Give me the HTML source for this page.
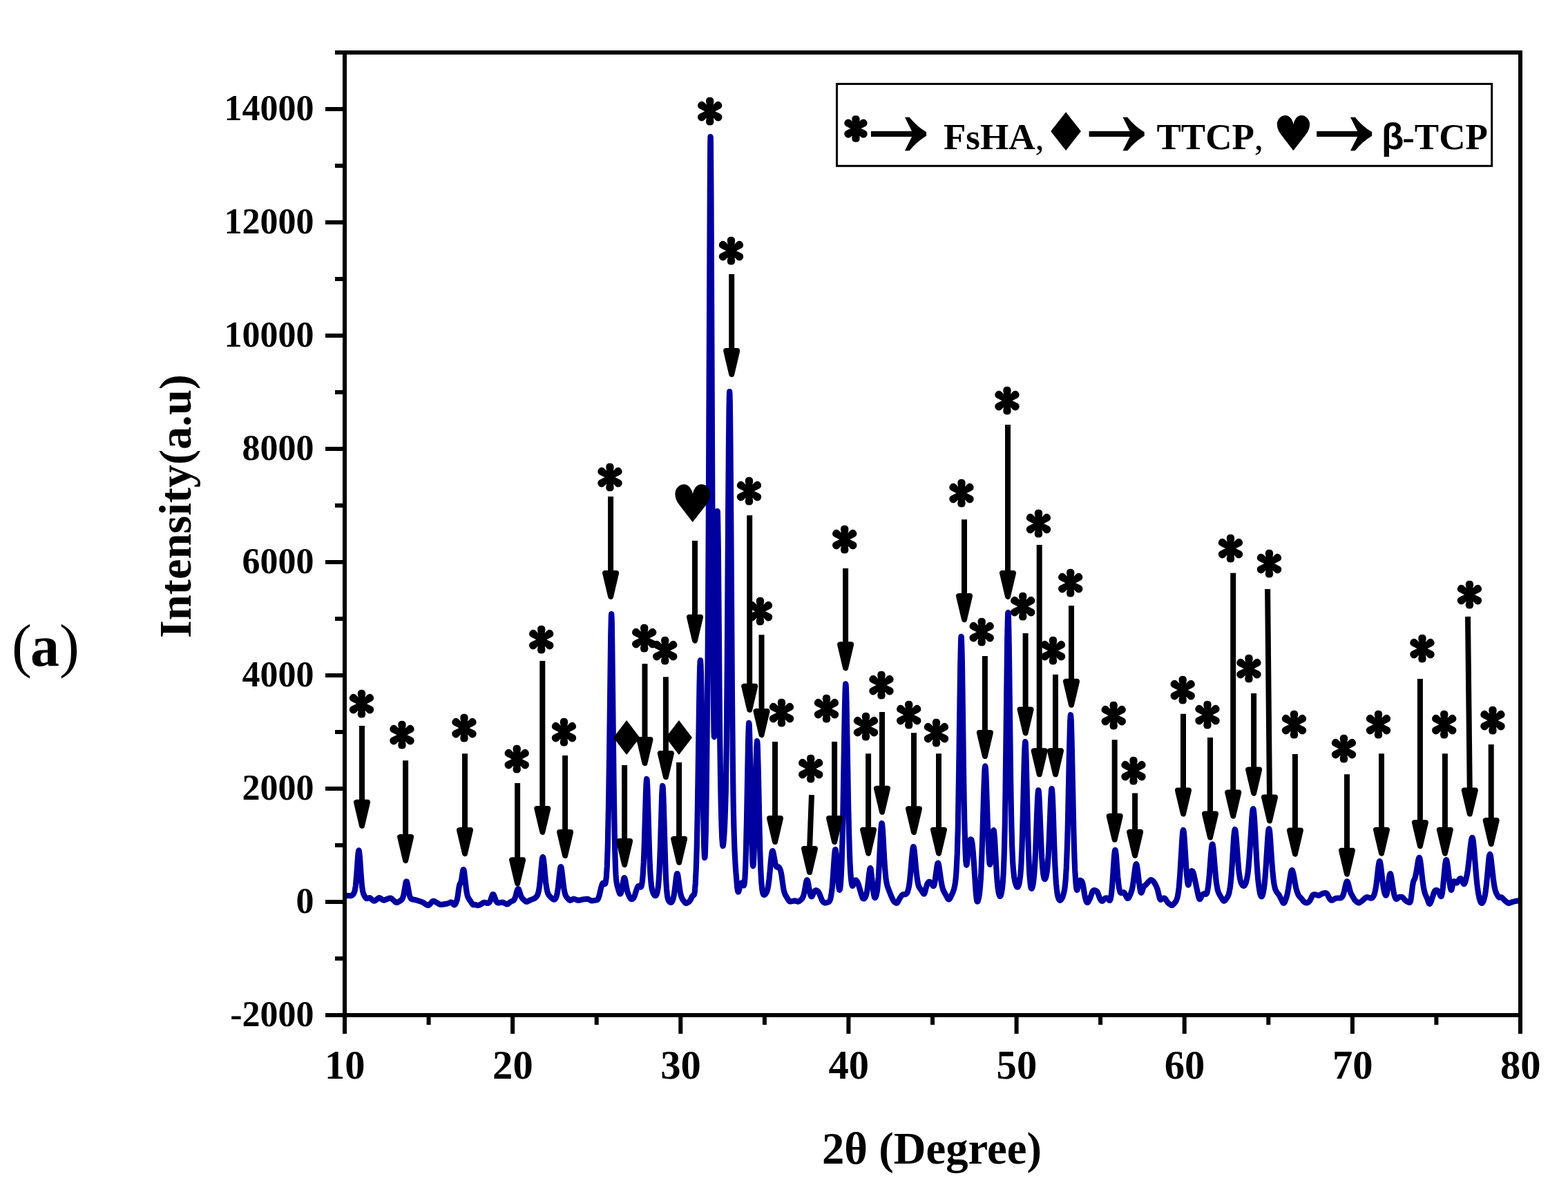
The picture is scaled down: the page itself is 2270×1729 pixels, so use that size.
<!DOCTYPE html>
<html lang="en">
<head>
<meta charset="utf-8">
<title>XRD pattern (a)</title>
<style>
html,body{margin:0;padding:0;background:#fff;}
body{width:2270px;height:1729px;overflow:hidden;}
svg{display:block;}
.b{font-family:"Liberation Serif","DejaVu Serif",serif;font-weight:bold;fill:#000;}
.r{font-family:"Liberation Serif","DejaVu Serif",serif;font-weight:normal;fill:#000;}
.s{font-family:"DejaVu Sans","Liberation Sans",sans-serif;fill:#000;}
.g{font-family:"Liberation Sans","DejaVu Sans",sans-serif;font-weight:bold;fill:#000;}
</style>
</head>
<body>
<svg width="2270" height="1729" viewBox="0 0 2270 1729">
<rect x="0" y="0" width="2270" height="1729" fill="#fff"/>
<g id="curve">
<path d="M497.5,1296.9 506.5,1297.2 507.5,1297.2 508.5,1297 509.2,1296.7 510,1296.2 510.8,1295.7 511.2,1295.2 511.8,1294.5 512.2,1293.7 513,1291.9 513.8,1289.1 514.2,1286.5 514.8,1283.1 515.2,1278.8 516.2,1267.3 518.2,1239.1 518.8,1234.3 519,1232.7 519.2,1231.8 519.5,1231.5 519.8,1231.9 520,1233.1 520.2,1234.8 520.8,1239.9 522.8,1268.9 523.8,1280.5 524.2,1284.8 524.8,1288.2 525.2,1290.8 525.8,1292.9 526.5,1295.1 527.5,1297.1 529,1299.6 529.8,1300.5 530.2,1301 530.8,1301.2 531.5,1301.2 534,1300.2 534.8,1300.1 535.2,1300.2 535.8,1300.4 536.5,1300.9 540.2,1304.1 541,1304.5 541.5,1304.6 542.2,1304.6 543,1304.2 544,1303.5 547.5,1300.7 548.2,1300.3 549,1300.1 549.8,1300.2 550.5,1300.6 553.2,1302.6 554.2,1303.2 555,1303.5 555.8,1303.6 556.5,1303.5 557.2,1303.2 563.8,1300.7 564.8,1300.5 565.2,1300.5 565.8,1300.6 566.5,1300.9 567.5,1301.7 572.5,1306.2 573.2,1306.7 574,1306.9 574.8,1306.9 575.5,1306.6 578.8,1304.8 580.8,1303.5 581.8,1302.6 582.5,1301.5 583.2,1299.7 584,1297.2 584.8,1293.7 586.8,1281.6 587.2,1279.1 587.8,1277.2 588,1276.6 588.2,1276.3 588.5,1276.3 588.8,1276.5 589,1277 589.2,1277.8 589.8,1279.9 591.8,1291.3 592.5,1295 593,1296.9 593.5,1298.5 594.2,1300.2 595,1301.3 595.5,1301.7 596,1302.1 597.2,1302.4 600.8,1303 602.5,1303.4 610.8,1306.1 612,1306.7 613,1307.2 618.2,1310.6 619,1310.9 619.5,1311 620.2,1311 620.8,1310.7 621.2,1310.3 622.2,1309.4 625.5,1305.7 626.5,1305 627.2,1304.8 628,1304.8 628.8,1305.1 635.5,1309.1 636.5,1309.6 637.5,1309.9 638.5,1310 639.5,1309.9 647,1308.6 648.8,1308.1 652,1306.6 653,1306.5 653.8,1306.7 654.5,1307.2 656.5,1309.5 657,1310 657.5,1310.3 658,1310.3 658.2,1310.2 658.8,1309.8 659.2,1309.1 659.8,1308.2 660.5,1306.5 661,1305.1 661.8,1302.5 662.2,1300.2 662.8,1297.2 664.2,1286.5 665,1282.3 665.5,1280.6 666,1279.6 666.8,1278.6 667,1278.1 667.5,1276.6 668.2,1272.9 669.5,1264.5 670,1261.6 670.5,1259.7 670.8,1259.2 671,1259.1 671.2,1259.3 671.5,1260 671.8,1261 672.2,1264 674.8,1286.1 675.5,1291.3 676,1294 676.5,1296.1 677,1297.8 677.5,1299.2 678.5,1301.1 681.2,1305.1 683.8,1309 684.5,1309.9 685,1310.3 685.8,1310.4 687.2,1310 688,1309.9 688.8,1310.1 690.5,1311 691,1311.1 691.8,1311.1 693.5,1310.6 696,1309.6 697.2,1308.9 699.5,1307.3 700.5,1306.9 701.2,1306.8 702,1306.9 704.8,1307.7 705.8,1307.9 706.5,1307.9 707.2,1307.6 708,1307.1 708.5,1306.6 709.5,1305 710.5,1302.6 712.5,1296.7 713.2,1295.3 713.5,1295.1 713.8,1295 714,1295 714.2,1295.1 714.5,1295.4 715,1296.3 715.5,1297.5 717.2,1302.5 718.2,1304.8 719,1306 719.5,1306.6 720,1307 720.8,1307.4 721.8,1307.5 722.8,1307.3 726,1306.7 726.8,1306.6 727.5,1306.6 728.2,1306.8 729,1307.1 733,1309.2 734,1309.4 734.8,1309.3 735.2,1309 736,1308.5 738.2,1306.6 739.2,1305.8 740.2,1305.3 742.2,1304.5 743,1304.1 743.8,1303.5 744.2,1302.9 744.8,1302.1 745.2,1301 746,1299.1 746.8,1296.6 748.2,1291.1 749,1288.7 749.5,1287.7 749.8,1287.4 750,1287.2 750.2,1287.2 750.5,1287.3 750.8,1287.5 751.2,1288.4 752,1290.5 754,1296.8 754.8,1298.6 755.8,1300.4 756.5,1301.4 757.2,1302.1 760.8,1305.1 761.5,1305.6 762,1305.7 762.5,1305.8 763,1305.7 764.2,1305.2 768.5,1303 772.8,1301.4 774.2,1300.6 775.8,1299.4 777,1298 777.8,1296.8 778.5,1295.2 779.2,1292.7 779.8,1290.6 780.5,1286.4 781,1282.8 782,1273.8 783.8,1254.4 784.5,1247 785,1243.4 785.2,1242.2 785.5,1241.4 785.8,1241 786,1241.1 786.2,1241.6 786.5,1242.6 787,1245.6 787.8,1252.4 789.2,1268.7 790.2,1278.2 791.2,1285.4 792.2,1290.4 792.8,1292.2 793.2,1293.6 794,1295.2 794.8,1296.4 795.5,1297.3 796.5,1298.4 799.2,1300.9 800.5,1302 801.5,1302.6 802.2,1302.6 803,1302.4 803.8,1301.7 804.5,1300.6 805,1299.5 805.8,1297.4 806.2,1295.5 806.8,1293.1 807.2,1290.2 808,1284.8 810,1265.9 810.8,1259.6 811.2,1256.7 811.5,1255.8 811.8,1255.2 812,1255.1 812.2,1255.3 812.5,1256 812.8,1257 813.2,1260 815.8,1281.9 816.5,1287.2 817.5,1292.3 818,1294.2 818.5,1295.7 819.5,1297.8 820.2,1299 821,1299.9 822.8,1301.9 823.8,1303 824.8,1303.6 825.2,1303.8 825.8,1303.8 826.8,1303.4 829.2,1302 830,1301.8 830.8,1301.7 832,1302 836.2,1303.6 837.2,1303.7 838,1303.7 839.2,1303.6 845,1302.3 848.5,1301.9 850,1301.8 851,1301.9 851.8,1302.2 855.2,1304 856,1304.2 857,1304.3 860,1304 862.8,1303.5 864.2,1303.1 864.8,1302.8 865.2,1302.4 865.8,1301.7 866.2,1300.8 867,1298.6 867.8,1295.8 870.2,1285.4 871.2,1282 872,1280 872.5,1279.1 872.8,1278.8 873,1278.6 873.2,1278.5 873.8,1278.7 875,1280 875.2,1280.2 875.5,1280.2 875.8,1280.1 876,1279.9 876.5,1278.7 877,1276.4 877.2,1274.8 877.8,1270.5 878.2,1264.1 878.8,1254.9 879.2,1242.2 879.8,1225.5 880.2,1204.8 881,1167.1 882.2,1087.1 884.2,922.4 884.8,896.8 885,890.5 885.2,889.1 885.5,892.7 885.8,901.1 886.2,930.5 888.5,1125.8 889.5,1193.6 890.2,1231.2 891,1256 891.5,1266.3 892,1272.9 892.5,1277.1 893,1280 894,1284.2 895.5,1289.5 896.5,1292.6 897.2,1294.1 897.5,1294.4 897.8,1294.5 898,1294.5 898.2,1294.4 898.8,1293.6 899.5,1291.4 900.2,1288 902,1277.5 902.8,1273.6 903.2,1271.9 903.5,1271.4 903.8,1271.1 904,1271.1 904.2,1271.4 904.5,1272 905,1273.7 905.5,1276.1 907.5,1287.4 908.2,1290.6 909,1293.2 910.2,1296.4 911.8,1299.5 912.8,1301.1 913.2,1301.6 913.8,1301.9 914.2,1302 914.8,1302 915.8,1301.7 916.2,1301.4 916.8,1300.9 917.5,1299.9 918,1298.9 918.8,1296.9 921,1289.9 922,1287.1 923,1284.7 923.8,1283.4 924.2,1283 924.5,1282.8 925,1282.9 925.5,1283.2 926.8,1284.5 927.2,1284.7 927.5,1284.7 927.8,1284.6 928,1284.3 928.2,1283.9 928.8,1282.4 929.2,1280.1 929.8,1276.8 930.5,1269.5 931.2,1258.6 931.8,1249 932.8,1223 935,1147.5 935.5,1135.7 935.8,1131.6 936,1129 936.2,1128 936.5,1128.6 936.8,1130.7 937,1134.4 937.5,1145.6 940,1230.4 940.5,1244.1 941.2,1260.4 942,1272.1 942.5,1277.8 943,1282.2 943.5,1285.6 944,1288.1 944.8,1291 945.5,1293 946,1294.1 946.8,1295.4 947.5,1296.3 948.2,1297 948.8,1297.1 949.2,1297 949.8,1296.6 950.2,1295.8 950.8,1294.7 951.2,1293.1 952,1289.8 952.8,1284.9 953.5,1277.5 954,1270.8 954.5,1262.2 955.2,1245.4 956,1223.8 957.8,1164.2 958.2,1150.5 958.8,1141.3 959,1138.9 959.2,1138 959.5,1138.7 959.8,1141 960,1144.9 960.5,1156.6 961,1172.5 962.8,1236 963.5,1258.1 964,1269.9 964.5,1279.4 965.2,1289.9 966,1296.8 966.5,1299.8 967,1301.9 967.8,1303.8 968.5,1305 969.8,1306.3 970.2,1306.6 970.8,1306.9 971.2,1306.9 971.8,1306.8 972.5,1306.2 973.2,1305 974,1303.3 974.5,1301.8 975,1299.8 976,1294.4 977,1287.1 979,1270.2 979.5,1267.2 979.8,1266.1 980,1265.4 980.2,1265 980.5,1265 980.8,1265.3 981,1265.9 981.5,1268.1 982.2,1273.2 984.2,1288.6 985,1293 985.8,1296.4 986.5,1298.9 987.5,1301.2 988.8,1303.2 990.8,1305.9 991.5,1306.8 992.2,1307.5 992.8,1307.8 993.2,1307.9 993.8,1307.9 994.5,1307.7 995.8,1307 997,1306.2 998,1305.3 999,1304 999.8,1302.6 1001.8,1298.6 1002.5,1297.4 1003.2,1296.7 1004.2,1296.3 1004.5,1296.1 1004.8,1295.7 1005.2,1294.2 1005.8,1291.2 1006.2,1286.2 1006.8,1279 1007.2,1269.3 1007.8,1257.2 1008.8,1224.7 1009.5,1190.6 1010,1162.2 1011.8,1040.2 1012.5,994.8 1013,973 1013.2,965.2 1013.5,959.8 1013.8,956.7 1014,956.1 1014.2,957.9 1014.5,962.1 1015,976.9 1015.5,999.3 1016.2,1043.3 1018.2,1178 1018.8,1205 1019.2,1225.5 1019.8,1238.2 1020,1241.2 1020.2,1242.1 1020.5,1240.9 1020.8,1237.6 1021,1232.3 1021.2,1225.2 1021.8,1205.4 1022.5,1162.2 1023.2,1102.6 1024,1027 1024.8,932.1 1025.8,756.2 1027.8,279.3 1028.2,211.7 1028.5,198.1 1028.8,199.2 1029,215 1029.5,285.9 1031.5,769.7 1032.2,919.3 1033,1023.2 1033.5,1059.5 1033.8,1066.8 1034,1067.1 1034.2,1060.9 1034.8,1032.8 1037,823.4 1037.8,767.2 1038.2,744.9 1038.5,740.1 1038.8,740.3 1039,745.8 1039.2,756.6 1039.8,793.1 1041.5,996 1042.2,1070.2 1043,1125.4 1043.5,1153.4 1044,1175.9 1044.5,1193.7 1045.2,1212.6 1045.8,1220.4 1046,1222.8 1046.2,1224.4 1046.5,1225.1 1046.8,1224.9 1047,1224 1047.2,1222.3 1047.8,1217.2 1048.8,1201.9 1049.5,1186.6 1050.2,1165.6 1050.8,1145.5 1051.2,1117.6 1051.8,1078.9 1052.2,1027.6 1052.8,963.8 1054.2,734.5 1055,636.2 1055.5,591.4 1055.8,577.2 1056,569 1056.2,567.1 1056.5,571.6 1056.8,582.2 1057,598.8 1057.5,647.7 1058,713.1 1060,1014.7 1060.8,1097.2 1061.5,1154 1062,1180.8 1062.5,1201.5 1063.2,1224.5 1064,1241.2 1064.5,1250 1065.2,1261.1 1066.8,1279.9 1067.2,1284.8 1067.8,1288.6 1068.2,1290.9 1068.5,1291.5 1068.8,1291.6 1069,1291.5 1069.5,1290.4 1071.5,1282.3 1072.2,1280.2 1073,1278.9 1073.5,1278.5 1073.8,1278.4 1074,1278.4 1074.2,1278.6 1074.5,1278.8 1075,1279.5 1076.2,1282.1 1076.5,1282.4 1076.8,1282.4 1077,1282.2 1077.2,1281.6 1077.5,1280.5 1077.8,1278.9 1078.2,1273.9 1078.5,1270.3 1079,1260.8 1079.5,1248 1080.2,1221.7 1081,1187.2 1083,1078.8 1083.5,1059.5 1083.8,1052.9 1084,1048.6 1084.2,1046.8 1084.5,1047.5 1084.8,1050.7 1085.2,1064.2 1086,1097.8 1087.2,1167.3 1088,1204.4 1088.8,1232.4 1089.2,1245 1089.5,1249.3 1089.8,1252.3 1090,1253.9 1090.2,1254.1 1090.5,1253.1 1090.8,1250.8 1091,1247.4 1091.5,1237 1092,1222.5 1092.8,1194 1094.2,1123.3 1095,1092.5 1095.5,1078.9 1095.8,1074.9 1096,1073.1 1096.2,1073.5 1096.5,1076.1 1096.8,1080.8 1097.2,1095.8 1097.8,1116.6 1099.8,1212 1100.2,1230.9 1101,1253.3 1101.8,1269.2 1102.2,1276.9 1102.8,1282.7 1103.2,1287.2 1103.8,1290.4 1104.2,1292.8 1104.5,1293.7 1105,1294.9 1105.2,1295.3 1105.8,1295.8 1106,1295.9 1106.5,1295.9 1107,1295.7 1107.5,1295.3 1108.5,1294.2 1109.5,1292.6 1110.2,1290.9 1111,1288.4 1111.5,1286.4 1112.5,1280.8 1113.5,1272.9 1114.5,1263 1116,1246.2 1116.8,1239.1 1117.2,1235.5 1117.8,1233.2 1118,1232.5 1118.2,1232.2 1118.5,1232.1 1118.8,1232.4 1119,1232.9 1119.5,1234.6 1120.2,1238.3 1122.2,1249.3 1123,1252.4 1123.5,1253.9 1124,1254.9 1124.2,1255.2 1124.8,1255.6 1125.2,1255.7 1126.5,1255.4 1127,1255.4 1127.5,1255.6 1128,1256.1 1128.5,1256.9 1129.2,1258.4 1129.8,1259.7 1130.2,1261.4 1131,1264.7 1131.5,1267.5 1133.5,1282 1134.2,1286.8 1135,1290.5 1135.8,1293 1136.5,1294.9 1137.2,1296.4 1139.8,1300.7 1141.8,1303.8 1142.5,1304.7 1143.2,1305.3 1144,1305.5 1144.8,1305.5 1149.2,1304.6 1150.8,1304.4 1152,1304.6 1154.5,1305.5 1155.2,1305.6 1155.8,1305.5 1156.8,1305.1 1157.8,1304.4 1159.8,1302.8 1161,1301.5 1161.8,1300.4 1162.2,1299.5 1163,1297.6 1163.5,1296 1164,1294 1164.8,1290.4 1167,1277.7 1167.5,1275.7 1167.8,1275 1168,1274.5 1168.2,1274.3 1168.5,1274.3 1168.8,1274.6 1169,1275.1 1169.5,1276.7 1170,1279 1171.8,1289 1172.5,1292.7 1173,1294.7 1173.5,1296.3 1174,1297.5 1174.5,1298.2 1174.8,1298.3 1175,1298.4 1175.2,1298.3 1175.8,1297.7 1176.5,1296.2 1178,1292.6 1178.5,1291.6 1179.2,1290.5 1180,1289.8 1180.8,1289.4 1181.2,1289.2 1182,1289.3 1182.8,1289.7 1183.8,1290.5 1184.5,1291.2 1185.2,1292.3 1185.8,1293.2 1186.5,1294.8 1188.8,1300.7 1189.8,1303 1190.2,1304 1191,1305.2 1192.2,1306.5 1193,1307 1193.5,1307.3 1194.2,1307.5 1195,1307.5 1196.5,1307.1 1199,1306.3 1199.8,1305.9 1200.5,1305.3 1201,1304.6 1201.5,1303.7 1202,1302.3 1202.5,1300.5 1203.2,1296.8 1204,1291.6 1204.8,1284.4 1205.5,1275.4 1208,1238.7 1208.5,1233.6 1208.8,1231.8 1209,1230.6 1209.2,1230.1 1209.5,1230.1 1209.8,1230.8 1210,1232 1210.5,1236.2 1211.2,1245.5 1213,1271 1214,1282.2 1214.5,1286 1215,1288.2 1215.2,1288.7 1215.5,1288.8 1215.8,1288.4 1216,1287.5 1216.2,1286.1 1216.8,1282 1217.5,1272 1218,1262.5 1218.5,1250.5 1219.2,1226.7 1219.8,1206.6 1220.5,1169.9 1222.5,1049.4 1223,1023.3 1223.5,1003.5 1223.8,996.7 1224,992.3 1224.2,990.3 1224.5,990.8 1224.8,993.9 1225,999.3 1225.5,1016.5 1226.2,1054.3 1228.2,1169.5 1229,1203.3 1229.8,1229.6 1230.5,1248.9 1231,1258.6 1231.5,1266.2 1232,1272.2 1232.5,1276.7 1233,1279.9 1233.2,1281.1 1233.8,1282.5 1234,1282.9 1234.2,1282.9 1234.5,1282.8 1234.8,1282.4 1235.2,1281.2 1236.8,1276.7 1237.2,1275.6 1237.8,1274.9 1238.2,1274.6 1238.8,1274.5 1239.2,1274.6 1240,1275.2 1240.8,1276.3 1241.5,1277.7 1243,1281.5 1244.2,1285.5 1247.2,1295.9 1248,1298.3 1248.5,1299.5 1249.2,1300.9 1249.8,1301.3 1250,1301.4 1250.5,1301.4 1251,1301.2 1251.5,1300.8 1252,1300.3 1252.5,1299.6 1253,1298.7 1253.5,1297.5 1254.2,1295.1 1255,1291.7 1255.5,1288.8 1256.2,1283.4 1258.2,1265.3 1258.8,1261.4 1259.2,1258.6 1259.5,1257.7 1259.8,1257.2 1260,1257.1 1260.2,1257.4 1260.5,1258.1 1260.8,1259.2 1261.2,1262.5 1263.8,1286.7 1264.5,1292.4 1265,1295.4 1265.5,1297.6 1265.8,1298.5 1266.2,1299.6 1266.5,1299.8 1266.8,1300 1267,1299.9 1267.2,1299.7 1267.8,1298.9 1268.2,1297.6 1268.8,1295.8 1269.2,1293.4 1269.8,1290.4 1270.5,1284.4 1271.2,1276.3 1271.8,1269.5 1272.5,1257.1 1274.5,1216.1 1275.2,1202.7 1275.8,1196.4 1276,1194.2 1276.2,1192.8 1276.5,1192.2 1276.8,1192.4 1277,1193.4 1277.2,1195.1 1277.8,1200.5 1278.5,1212.2 1280.2,1243.8 1281,1255.2 1282,1267 1282.5,1271.5 1283,1275.1 1283.5,1278.1 1284.2,1281.5 1285,1284.1 1285.8,1286.2 1289.2,1295.1 1291.8,1301.1 1293,1303.6 1293.5,1304.4 1294.2,1305.3 1295.8,1306.7 1297,1307.5 1297.5,1307.7 1298,1307.7 1298.5,1307.6 1298.8,1307.4 1299.2,1306.9 1300,1305.7 1302.2,1301.5 1303.5,1299.4 1304.5,1297.9 1305.5,1296.6 1306.5,1295.7 1307.2,1295.3 1308.2,1295.1 1310.5,1295.1 1311.2,1294.9 1311.8,1294.6 1312.5,1293.9 1313,1293.2 1313.8,1291.7 1314.2,1290.4 1315,1287.8 1315.8,1284.3 1316.5,1279.7 1317,1275.8 1318.2,1263.6 1320,1242.4 1320.8,1234.2 1321.5,1228.4 1321.8,1227.2 1322,1226.4 1322.2,1226.1 1322.5,1226.2 1322.8,1226.7 1323,1227.6 1323.8,1232.6 1324.5,1240 1326,1256.7 1326.8,1264.3 1327.8,1272.5 1328.8,1278.4 1329.2,1280.6 1329.8,1282.4 1330.2,1283.8 1330.8,1284.9 1331.5,1286.1 1334,1289.4 1336.5,1293.6 1337,1294.2 1337.5,1294.5 1337.8,1294.5 1338,1294.3 1338.5,1293.6 1339.2,1291.4 1341,1284.3 1341.8,1281.8 1342.2,1280.5 1343,1279 1343.8,1277.9 1344.5,1277.1 1345,1276.9 1345.8,1276.9 1346.5,1277.3 1347.2,1277.9 1348.5,1279.4 1350.2,1282.3 1350.8,1282.9 1351,1283.1 1351.2,1283.1 1351.5,1283.1 1351.8,1282.9 1352,1282.5 1352.2,1281.9 1352.8,1280.1 1353.5,1276.2 1354.2,1271 1355.8,1259.2 1356.5,1254.2 1357,1251.7 1357.2,1250.8 1357.5,1250.2 1357.8,1249.9 1358,1249.8 1358.2,1250 1358.5,1250.5 1358.8,1251.3 1359.2,1253.5 1360,1258.2 1361.8,1271.3 1362.8,1277.9 1363.8,1283 1364.8,1286.8 1365.5,1288.8 1366.5,1291 1370.5,1298.3 1372,1300.9 1372.8,1301.9 1373.2,1302.3 1373.5,1302.4 1374,1302.3 1374.2,1302.2 1374.8,1301.7 1375.5,1300.5 1376.5,1298.6 1378.2,1295 1379.5,1292.2 1380.2,1290.2 1381,1287.8 1382,1283.6 1383,1277.6 1383.8,1271 1384.5,1261.6 1385.2,1247.8 1385.8,1235.2 1386.2,1219.3 1386.8,1199.3 1387.2,1174.9 1388.2,1112.6 1390.2,966.1 1390.8,940.2 1391,931 1391.2,924.8 1391.5,921.8 1391.8,922.1 1392,925.6 1392.2,932.2 1392.8,953.9 1393.5,1002 1395.2,1130.5 1396.2,1186.9 1396.8,1208.1 1397.5,1231.8 1398,1242.5 1398.2,1246.4 1398.8,1251.3 1399,1252.4 1399.2,1252.6 1399.5,1252.1 1400,1249 1400.5,1244.1 1402,1226.8 1402.5,1222.6 1403,1219.6 1403.2,1218.5 1403.8,1217 1404.2,1216.2 1404.8,1215.7 1405.2,1215.4 1405.8,1215.5 1406,1215.7 1406.2,1216.1 1406.5,1216.7 1407,1218.5 1407.5,1221.6 1408,1225.8 1408.8,1234.1 1410,1250.9 1412.5,1288.6 1413,1294.9 1413.5,1299.8 1413.8,1301.7 1414.2,1304.3 1414.5,1305.1 1414.8,1305.5 1415,1305.6 1415.2,1305.5 1415.5,1305.1 1416,1303.9 1416.5,1302.2 1417,1299.9 1417.5,1297.1 1418,1293.6 1418.5,1289.3 1419,1284 1419.8,1273.8 1420.5,1260.2 1421.2,1242.9 1422,1221.7 1424,1153.5 1424.8,1130.7 1425.5,1115 1425.8,1112 1426,1110.1 1426.2,1109.5 1426.5,1110.1 1426.8,1112 1427,1115 1427.5,1124.2 1428.2,1144 1430,1199.2 1430.8,1220 1431.2,1231.5 1431.8,1240.8 1432.2,1247.3 1432.5,1249.5 1432.8,1251 1433,1251.8 1433.2,1251.9 1433.5,1251.4 1434,1248.7 1434.5,1244.2 1435,1238.5 1436.5,1217.8 1437.2,1208.7 1437.8,1204.5 1438,1203.1 1438.2,1202.4 1438.5,1202.2 1438.8,1202.7 1439,1203.9 1439.2,1205.7 1440,1214.7 1442.5,1259.6 1443.2,1270.9 1444,1279.9 1444.5,1284.6 1445,1288.5 1445.5,1291.6 1446,1294 1446.8,1296.6 1447.2,1297.6 1447.5,1297.8 1447.8,1298 1448,1297.9 1448.2,1297.7 1448.8,1296.9 1449.2,1295.5 1449.8,1293.4 1450.2,1290.8 1451,1285.6 1451.8,1278.1 1452.5,1267.3 1453,1257.3 1453.5,1244.4 1454,1227.7 1454.8,1194.2 1455.5,1148.8 1456.2,1091.7 1457.8,962.4 1458.2,926.3 1458.8,900.3 1459,892.2 1459.2,887.7 1459.5,887 1459.8,890 1460,896.7 1460.5,919.9 1461,953.5 1462.5,1077.2 1463.2,1132.7 1464.2,1189.2 1464.8,1209.9 1465.2,1226.3 1465.8,1239 1466.2,1248.9 1467,1259.5 1467.8,1266.9 1468.2,1270.5 1468.8,1273.5 1469.2,1276 1470,1278.9 1470.8,1281.3 1471.5,1283.1 1472.2,1284.3 1472.8,1284.7 1473,1284.7 1473.2,1284.7 1473.5,1284.5 1474,1283.8 1474.5,1282.7 1475,1281.2 1475.5,1279.2 1476.2,1275.2 1477,1269.4 1477.5,1264.3 1478,1257.7 1478.5,1249.5 1479.5,1226.9 1480.2,1203.8 1482.5,1113.2 1483,1095.6 1483.5,1082.4 1483.8,1077.9 1484,1075.1 1484.2,1074.1 1484.5,1074.8 1484.8,1077.3 1485,1081.6 1485.5,1094.6 1486.2,1122.7 1488.2,1208.1 1489,1233.2 1489.5,1246.7 1490.2,1262.6 1491,1273.8 1491.8,1281.2 1492,1282.9 1492.5,1285.3 1492.8,1286.1 1493,1286.5 1493.2,1286.8 1493.5,1286.8 1493.8,1286.6 1494.2,1285.7 1495,1283.2 1495.8,1279.3 1496.2,1275.9 1497,1269 1497.5,1263 1498.5,1246.9 1499.2,1230.9 1501.2,1176.9 1502,1158.9 1502.5,1150.2 1502.8,1147.2 1503,1145.2 1503.2,1144.3 1503.5,1144.5 1503.8,1145.7 1504,1148 1504.5,1155.2 1505.2,1171.4 1506.8,1210 1507.5,1227.4 1508.2,1241.8 1509,1253 1509.8,1261.2 1510.2,1265.4 1510.8,1268.6 1511.5,1271.7 1512,1272.8 1512.2,1273.1 1512.5,1273.2 1512.8,1273.1 1513,1272.9 1513.2,1272.5 1513.8,1271.4 1514.5,1268.8 1515,1266.4 1515.5,1263.3 1516,1259.4 1516.5,1254.6 1517,1248.7 1517.8,1237.4 1518.5,1223.1 1521.2,1156.7 1521.8,1148.2 1522,1145.2 1522.2,1143.1 1522.5,1142.1 1522.8,1142.2 1523,1143.4 1523.2,1145.7 1523.8,1153.4 1524.5,1171.1 1526.2,1223.5 1527.2,1249.4 1527.8,1260 1528.5,1272.9 1529,1279.6 1529.8,1287.4 1530.5,1293 1531,1295.8 1531.5,1298 1532,1299.8 1532.5,1301.2 1533,1302.3 1533.8,1303.4 1534.2,1303.7 1534.5,1303.8 1535,1303.7 1535.5,1303.4 1536.2,1302.6 1537,1301.5 1537.8,1300.1 1538.5,1298.4 1539.2,1296.3 1540.2,1292.6 1541,1288.8 1541.8,1283.5 1542.2,1278.8 1542.8,1273 1543.2,1265.6 1543.8,1256.5 1544.2,1245.3 1545,1223.9 1545.8,1196.5 1546.5,1163.4 1548,1089.6 1548.8,1058.3 1549.2,1043.8 1549.5,1039 1549.8,1036.1 1550,1035.2 1550.2,1036.3 1550.5,1039.3 1550.8,1044.1 1551.5,1068.5 1553.8,1177.2 1554.5,1208.9 1555,1226.8 1555.5,1241.9 1556.2,1259.9 1556.8,1269 1557.5,1279.3 1558.2,1285.8 1558.8,1288.2 1559,1288.7 1559.2,1288.9 1559.5,1288.7 1559.8,1288.2 1560,1287.3 1561.8,1278.3 1562.2,1276.4 1562.8,1275.3 1563.2,1274.8 1563.5,1274.7 1564,1274.8 1565.5,1275.6 1566,1276 1566.5,1276.8 1567.2,1278.7 1568,1282 1570.2,1295.7 1571.2,1300.6 1571.8,1302.6 1572.5,1304.9 1573.2,1306.4 1573.8,1306.9 1574,1307 1574.2,1307 1574.8,1306.7 1575.2,1306.2 1576,1305 1577,1303 1578,1300.8 1579,1298.1 1580.8,1293.1 1581.5,1291.3 1582,1290.4 1582.5,1289.8 1583,1289.4 1583.8,1289.2 1584.2,1289.1 1585,1289.2 1586.2,1289.6 1587.2,1290.2 1587.8,1290.6 1588.2,1291.2 1588.8,1292 1589.5,1293.6 1591.5,1299 1592.5,1301.4 1593,1302.4 1593.8,1303.6 1594.2,1304.2 1594.8,1304.7 1595.2,1304.9 1595.5,1304.9 1595.8,1304.9 1596.2,1304.6 1597,1303.9 1598.5,1302.1 1599.2,1301.4 1600.2,1300.7 1601,1300.4 1601.5,1300.3 1602,1300.3 1602.5,1300.4 1603.2,1300.9 1604,1301.7 1605.5,1303.5 1606,1303.9 1606.5,1304 1606.8,1303.8 1607.2,1303.1 1607.8,1301.6 1608,1300.6 1608.5,1297.8 1609,1294.2 1609.5,1289.5 1610.5,1277.5 1613,1240.4 1613.5,1235.2 1613.8,1233.3 1614,1232 1614.2,1231.2 1614.5,1231 1614.8,1231.4 1615,1232.4 1615.2,1233.9 1615.8,1238.1 1618.2,1269.3 1619,1277.1 1619.5,1281.3 1620,1284.9 1620.8,1288.8 1621.5,1291.3 1621.8,1291.9 1622.2,1292.6 1622.8,1293 1623.2,1293.1 1624,1292.9 1625.5,1292.2 1626,1292.1 1626.5,1292.1 1627,1292.2 1627.5,1292.7 1628.2,1293.7 1629,1295.1 1631,1299.2 1631.5,1300 1632,1300.7 1632.5,1301 1632.8,1301 1633.2,1300.8 1633.8,1300.3 1634.5,1299.2 1636,1296.2 1637.2,1293.3 1638.2,1290.2 1639,1287.2 1639.8,1283.3 1640.5,1278.5 1642.8,1261 1643.5,1255.8 1644,1253.2 1644.2,1252.3 1644.5,1251.6 1644.8,1251.2 1645,1251.2 1645.2,1251.4 1645.5,1252 1645.8,1252.8 1646.2,1255.3 1647,1260.6 1648.8,1275.8 1649.8,1283.6 1650.8,1289.4 1651.2,1291.3 1651.8,1292.5 1652,1292.8 1652.2,1292.9 1652.5,1292.7 1653,1291.9 1653.5,1290.6 1655,1285.7 1655.5,1284.5 1656.2,1283.2 1656.8,1282.7 1658.5,1281.6 1659.2,1280.9 1662.8,1276.8 1664.8,1274.8 1665.5,1274.3 1666,1274.1 1666.5,1274.1 1667,1274.2 1667.8,1274.7 1668.8,1275.5 1669.8,1276.5 1670.8,1277.6 1671.5,1278.7 1672.2,1280 1674,1283.4 1675,1285.9 1675.8,1288.2 1676.5,1291 1678,1297.5 1678.8,1300.2 1679.2,1301.6 1679.8,1302.4 1680.2,1302.8 1680.8,1302.8 1681.2,1302.5 1683,1301.1 1684,1300.6 1685,1300.5 1685.5,1300.6 1686,1300.7 1686.8,1301.3 1687.2,1301.8 1690.2,1306.4 1691.2,1307.5 1692.2,1308.5 1694.5,1310.2 1695.8,1310.9 1696.2,1311 1696.8,1311 1697.2,1310.8 1697.8,1310.5 1699.2,1309 1701.2,1306.7 1702.2,1305.3 1703.2,1303.3 1704,1301.2 1704.8,1298.3 1705.5,1294.5 1706,1291.2 1706.8,1285 1707.2,1279.9 1708.2,1267.1 1709.2,1251.1 1710.8,1224.4 1711.5,1212.8 1712.2,1204.9 1712.5,1203.3 1712.8,1202.4 1713,1202 1713.2,1202.3 1713.5,1203.2 1713.8,1204.7 1714.5,1212.3 1715.2,1223.1 1717.2,1255.5 1718.2,1268.6 1718.8,1273.8 1719.2,1277.8 1719.8,1280.4 1720,1281.2 1720.2,1281.5 1720.5,1281.4 1720.8,1280.9 1721,1280.1 1721.5,1277.4 1723,1267.1 1723.8,1263.6 1724.2,1262.2 1724.8,1261.4 1725.2,1261.1 1725.8,1261.2 1726.2,1261.5 1726.5,1261.8 1727,1262.7 1727.8,1264.6 1728.5,1267.3 1730.2,1275.1 1734.5,1296 1735.5,1299.8 1736,1301.1 1736.2,1301.6 1736.5,1301.9 1736.8,1302.1 1737,1302.1 1737.2,1302 1737.5,1301.7 1738,1301 1739.5,1297.7 1740.2,1296.3 1741,1295.4 1741.8,1294.7 1742.5,1294.3 1743.2,1294.2 1744,1294.3 1745.2,1294.8 1745.8,1294.9 1746.2,1294.7 1746.8,1294.2 1747.2,1293.1 1747.5,1292.3 1748.2,1289.1 1749,1284.3 1749.5,1280.3 1750.8,1267.4 1753,1237.9 1753.8,1229.5 1754.2,1225.5 1754.5,1224 1754.8,1223 1755,1222.5 1755.2,1222.4 1755.5,1222.8 1755.8,1223.7 1756,1225 1756.5,1228.7 1757.2,1236.5 1759,1258.4 1760,1269.5 1760.5,1274.2 1761.2,1280.1 1761.8,1283.3 1762.5,1287.2 1763.2,1290.2 1764,1292.4 1764.8,1294.1 1766,1296.3 1769.5,1302.1 1770.8,1303.9 1771.2,1304.4 1771.8,1304.6 1772.2,1304.6 1772.8,1304.4 1773.8,1303.5 1775.8,1300.8 1777,1298.9 1778,1296.9 1778.8,1294.9 1779.5,1292.2 1780.2,1288.5 1780.8,1285.4 1781.5,1279.5 1782,1274.7 1783,1262.8 1784,1247.8 1785.5,1222.9 1786.2,1212 1787,1204.3 1787.5,1201.7 1787.8,1201.1 1788,1201.2 1788.2,1201.7 1788.5,1202.8 1789,1206.4 1789.8,1214.5 1791.8,1241.9 1792.8,1253.9 1793.2,1258.9 1794,1265.2 1794.5,1268.7 1795.2,1272.8 1796.2,1276.8 1797.2,1279.4 1797.8,1280.4 1798.5,1281.5 1799.2,1282.4 1799.8,1282.7 1800.2,1282.9 1800.8,1282.9 1801.2,1282.7 1801.8,1282.2 1802.2,1281.5 1803,1280.1 1804,1277.3 1805,1273.3 1805.8,1269.3 1806.8,1262.3 1807.5,1255.4 1808.2,1247.1 1809.2,1233.7 1811.8,1193.2 1812.5,1182.6 1813,1177 1813.5,1173.1 1813.8,1171.9 1814,1171.3 1814.2,1171.2 1814.5,1171.7 1814.8,1172.7 1815,1174.4 1815.5,1179.2 1816,1185.8 1816.8,1198.2 1819.2,1244.9 1820.2,1260.4 1821.2,1272.7 1822.2,1282.1 1822.8,1285.9 1823.5,1290.4 1824.2,1293.9 1825,1296.4 1825.5,1297.6 1825.8,1297.9 1826,1298.2 1826.2,1298.3 1826.5,1298.3 1826.8,1298.1 1827.2,1297.5 1827.8,1296.3 1828.5,1293.7 1829.2,1290 1829.8,1286.9 1830.8,1278.8 1831.5,1270.9 1832.5,1257.7 1834.8,1221.4 1835.5,1210.6 1836.2,1203.1 1836.8,1200.5 1837,1200 1837.2,1200 1837.5,1200.6 1837.8,1201.7 1838,1203.3 1838.5,1207.9 1839.2,1217.3 1841.2,1247.2 1842.2,1260.2 1842.8,1265.7 1843.5,1272.7 1844.2,1278.3 1845,1282.5 1845.5,1284.8 1846.2,1287.5 1846.8,1288.9 1847.5,1290.6 1848.5,1292.2 1850.8,1294.9 1851.8,1296.3 1853,1298.6 1856.8,1306.2 1857.5,1307.3 1858,1307.7 1858.2,1307.8 1858.8,1307.7 1859.2,1307.3 1859.8,1306.5 1860.2,1305.4 1861.8,1301.4 1863,1297.2 1864,1292.9 1865,1287.5 1867.8,1269.7 1868.5,1265.3 1869,1263 1869.5,1261.3 1870,1260.3 1870.2,1260.1 1870.5,1260.1 1870.8,1260.2 1871.2,1261.1 1872,1263.5 1872.8,1267 1875,1279.5 1876.2,1285.7 1877.5,1290.5 1878.8,1294.1 1879.8,1296.2 1880.8,1297.7 1883.8,1300.9 1886.8,1304.7 1887.5,1305.5 1888.2,1306.1 1889.2,1306.7 1890.2,1307.1 1891.5,1307.4 1892,1307.4 1892.8,1307.2 1893.5,1306.8 1894.2,1306.3 1895.5,1305.2 1896.2,1304.3 1897,1303.1 1899,1298.7 1899.8,1297.2 1900.5,1296.2 1901.2,1295.6 1902.2,1295.3 1903.8,1295.3 1905,1295.6 1908,1296.6 1908.8,1296.7 1909.2,1296.7 1909.8,1296.6 1910.5,1296.2 1913,1294.7 1914.2,1294.1 1916,1293.5 1917.5,1293.1 1918.5,1293.1 1919.5,1293.2 1920.2,1293.5 1921,1294.1 1922,1295.6 1924,1299.7 1925,1301.4 1925.5,1302.1 1926.2,1302.9 1927,1303.4 1927.5,1303.7 1928.2,1303.7 1929.2,1303.5 1932.8,1301.3 1933.5,1300.9 1934.2,1300.7 1935.8,1300.5 1940,1300.5 1940.8,1300.4 1941.5,1300.1 1942,1299.8 1942.5,1299.4 1943.2,1298.4 1944,1297.1 1944.8,1295.2 1945.2,1293.7 1946,1291 1948,1281.9 1948.8,1278.9 1949.5,1276.9 1949.8,1276.5 1950,1276.3 1950.2,1276.3 1950.5,1276.4 1950.8,1276.7 1951,1277.2 1951.5,1278.5 1952,1280.2 1953.8,1287.3 1954.5,1290 1955.2,1292.3 1956.2,1294.6 1960,1301.3 1961.2,1303.2 1962,1304.1 1962.8,1304.8 1965.2,1306.7 1966.2,1307.2 1967,1307.4 1967.8,1307.2 1968.5,1306.9 1970.5,1305.5 1972.5,1304 1977,1299.9 1977.8,1299.4 1978.2,1299.2 1979,1299.1 1979.8,1299.2 1983.5,1300.4 1984.5,1300.6 1985.2,1300.6 1986,1300.4 1986.8,1299.9 1987.5,1299.1 1988.2,1298 1988.8,1297.1 1989.5,1295.3 1990,1293.7 1991,1289.6 1992,1283.9 1992.8,1278.5 1995,1258.6 1995.8,1252.7 1996.5,1248.6 1996.8,1247.8 1997,1247.3 1997.2,1247.1 1997.5,1247.2 1997.8,1247.7 1998,1248.5 1998.8,1252.5 1999.5,1258.3 2001.5,1276.1 2002.2,1281.7 2003,1286.5 2003.5,1289.1 2004.2,1292.3 2005,1294.6 2005.8,1296.1 2006,1296.4 2006.2,1296.6 2006.5,1296.6 2006.8,1296.4 2007.2,1295.5 2007.8,1293.9 2008.2,1291.5 2008.8,1288.4 2010.5,1275.1 2011.2,1270 2012,1266.4 2012.2,1265.7 2012.5,1265.3 2012.8,1265.2 2013,1265.4 2013.2,1265.8 2013.5,1266.6 2014.2,1270 2016.8,1287 2018,1293.8 2018.5,1295.9 2019.2,1298.4 2019.8,1299.7 2020.5,1301 2021.2,1301.8 2021.5,1301.9 2022,1301.9 2022.8,1301.5 2024.8,1299.6 2025.8,1299 2026.5,1298.8 2027.5,1298.8 2028.8,1298.8 2029.5,1299 2030.5,1299.4 2031.2,1300.1 2034.2,1303.5 2035,1304.2 2035.8,1304.8 2037,1305.6 2039.2,1306.6 2040.2,1307 2040.8,1306.9 2041.2,1306.6 2041.8,1305.7 2042.2,1304 2042.5,1302.8 2043.2,1297.8 2045,1282.6 2045.8,1278.1 2046,1277 2046.5,1275.5 2047.8,1273.1 2048.2,1271.9 2048.8,1270.4 2049.2,1268.6 2050.5,1262.4 2052.5,1249.9 2053.2,1245.8 2054,1242.9 2054.2,1242.3 2054.5,1242 2054.8,1241.9 2055,1242.1 2055.2,1242.6 2055.5,1243.4 2056.2,1247.1 2057,1252.8 2059,1271.1 2059.8,1277.3 2060.8,1284.2 2061.8,1289.4 2062.5,1292.3 2063.2,1294.6 2066,1300.7 2068.2,1307 2069,1308.4 2069.5,1308.8 2069.8,1308.8 2070.2,1308.4 2070.8,1307.7 2071.2,1306.7 2072,1304.8 2073.2,1301.2 2075.5,1293.9 2076.2,1291.9 2077,1290.4 2077.5,1289.8 2078,1289.4 2078.8,1289.1 2079.2,1289 2079.8,1289.1 2080.5,1289.3 2081.2,1289.9 2082.2,1290.9 2083.2,1292.4 2084,1294 2085.2,1297.1 2085.8,1297.9 2086,1298.2 2086.2,1298.2 2086.5,1298 2086.8,1297.6 2087,1297 2087.2,1296.1 2087.8,1293.7 2088.8,1286.2 2089.5,1279.1 2091.5,1257.9 2092.2,1251.2 2093,1246.8 2093.2,1245.9 2093.5,1245.3 2093.8,1245.1 2094,1245.2 2094.2,1245.6 2094.5,1246.4 2095.2,1250.2 2096,1255.9 2098,1273.6 2099,1281.2 2099.5,1284.3 2100,1286.8 2100.5,1288.3 2100.8,1288.7 2101,1288.8 2101.2,1288.6 2101.5,1288.1 2102,1286.3 2103.5,1278.8 2104,1277.2 2104.2,1276.7 2104.5,1276.4 2104.8,1276.2 2105,1276.2 2105.5,1276.4 2107,1277.8 2107.8,1278.3 2108.5,1278.6 2109,1278.5 2109.5,1278.2 2110,1277.6 2112,1274.1 2112.8,1273 2113.2,1272.5 2113.8,1272.2 2114.2,1272.1 2114.5,1272.1 2115,1272.3 2115.2,1272.5 2116,1273.5 2116.8,1275 2118.2,1278.8 2118.8,1279.7 2119.2,1280.1 2119.5,1280.1 2119.8,1280 2120.2,1279.4 2120.8,1278.5 2121.2,1277.2 2122.2,1273.9 2123.2,1269.5 2124,1265.4 2124.8,1260.6 2125.8,1253.1 2128.5,1228.3 2129.5,1220.1 2130,1216.9 2130.5,1214.6 2131,1213.2 2131.2,1212.9 2131.5,1213 2131.8,1213.3 2132.2,1214.9 2132.8,1217.8 2133.2,1221.7 2134.2,1232.1 2137.2,1268.6 2138.2,1278.8 2139.2,1287.2 2140.2,1293.9 2140.8,1296.7 2141.5,1300.3 2142,1302.2 2142.8,1304.6 2143.5,1306.4 2144,1307.2 2144.5,1307.7 2144.8,1307.9 2145,1307.9 2145.5,1307.8 2146.2,1307.1 2147,1305.9 2147.8,1304.2 2148.5,1301.9 2149.2,1299 2149.8,1296.5 2150.8,1290.3 2151.8,1282.1 2152.8,1272.1 2154.8,1249.9 2155.5,1243.1 2156,1239.8 2156.2,1238.6 2156.5,1237.8 2156.8,1237.3 2157,1237.1 2157.2,1237.3 2157.5,1237.9 2157.8,1238.7 2158.5,1243 2159.2,1249.2 2161.8,1272.2 2162.8,1279.5 2163.5,1283.9 2164.5,1288.4 2165.5,1291.7 2166.8,1294.5 2168.5,1297.6 2169.5,1298.9 2170,1299.4 2170.5,1299.6 2171.2,1299.7 2173,1299.3 2173.8,1299.4 2174.2,1299.7 2175.2,1300.5 2178,1303.5 2179.8,1305.2 2182.2,1307.2 2183,1307.6 2183.8,1307.8 2184.5,1307.9 2185.2,1307.7 2189.5,1306.1 2194,1304.9 2195.5,1304.7 2197.8,1304.4 2201,1304.2" fill="none" stroke="#00009f" stroke-width="8.2" stroke-linejoin="round" stroke-linecap="butt"/>
</g>
<g id="axes" stroke="#000" stroke-width="6" fill="none" stroke-linecap="butt">
<path d="M499.0,73.0 V1497.0 M2201.0,73.0 V1497.0 M471.0,1470.0 H2204.0 M485.0,76.0 H2204.0"/>
<path d="M485.0,1388 H499.0 M471.0,1306 H499.0 M485.0,1224 H499.0 M471.0,1142 H499.0 M485.0,1060 H499.0 M471.0,978 H499.0 M485.0,896 H499.0 M471.0,814 H499.0 M485.0,732 H499.0 M471.0,650 H499.0 M485.0,568 H499.0 M471.0,486 H499.0 M485.0,404 H499.0 M471.0,322 H499.0 M485.0,240 H499.0 M471.0,158 H499.0 M620.6,1470.0 V1484.0 M742.1,1470.0 V1497.0 M863.7,1470.0 V1484.0 M985.3,1470.0 V1497.0 M1106.9,1470.0 V1484.0 M1228.4,1470.0 V1497.0 M1350,1470.0 V1484.0 M1471.6,1470.0 V1497.0 M1593.1,1470.0 V1484.0 M1714.7,1470.0 V1497.0 M1836.3,1470.0 V1484.0 M1957.9,1470.0 V1497.0 M2079.4,1470.0 V1484.0"/>
</g>
<g id="ylabels" class="b" font-size="52" text-anchor="end">
<text x="454.5" y="1486">-2000</text>
<text x="454.5" y="1322">0</text>
<text x="454.5" y="1158">2000</text>
<text x="454.5" y="994">4000</text>
<text x="454.5" y="830">6000</text>
<text x="454.5" y="666">8000</text>
<text x="454.5" y="502">10000</text>
<text x="454.5" y="338">12000</text>
<text x="454.5" y="174">14000</text>
</g>
<g id="xlabels" class="b" font-size="58.6" text-anchor="middle">
<text x="499.3" y="1562">10</text>
<text x="742.4" y="1562">20</text>
<text x="985.6" y="1562">30</text>
<text x="1228.7" y="1562">40</text>
<text x="1471.9" y="1562">50</text>
<text x="1715" y="1562">60</text>
<text x="1958.2" y="1562">70</text>
<text x="2201.3" y="1562">80</text>
</g>
<text class="b" font-size="65" x="1190" y="1685" textLength="318" lengthAdjust="spacingAndGlyphs">2θ (Degree)</text>
<text class="b" font-size="65" transform="translate(276,924) rotate(-90)" textLength="382" lengthAdjust="spacingAndGlyphs">Intensity(a.u)</text>
<text class="r" font-size="86.7" y="963.7"><tspan x="16.9">(</tspan><tspan x="44" font-size="84" font-weight="bold">a</tspan><tspan x="85.9">)</tspan></text>
<g id="legend">
<rect x="1211.5" y="121.5" width="948.2" height="118.8" fill="none" stroke="#000" stroke-width="3"/>
<text x="1239.1" y="211.6" font-family="IPAGothic,'Liberation Serif',serif" font-size="66" text-anchor="middle" fill="#000" stroke="#000" stroke-width="5.5" stroke-linejoin="round">*</text>
<path transform="translate(1341.1,194)" d="M-80.1,-4 H-21 L-31.2,-24.2 H-24.5 Q-14,-11 0,-2.7 V2.7 Q-14,11 -24.5,24.2 H-31.2 L-21,4 H-80.1 Z" fill="#000"/>
<path transform="translate(1656.7,194)" d="M-80.1,-4 H-21 L-31.2,-24.2 H-24.5 Q-14,-11 0,-2.7 V2.7 Q-14,11 -24.5,24.2 H-31.2 L-21,4 H-80.1 Z" fill="#000"/>
<path transform="translate(1986.2,194)" d="M-80.1,-4 H-21 L-31.2,-24.2 H-24.5 Q-14,-11 0,-2.7 V2.7 Q-14,11 -24.5,24.2 H-31.2 L-21,4 H-80.1 Z" fill="#000"/>
<text class="b" font-size="53" x="1366" y="215.5">FsHA<tspan font-weight="normal">,</tspan></text>
<text class="s" font-size="100" text-anchor="middle" transform="translate(1543.1,190.4) scale(0.777,0.767)" x="0" y="36">♦</text>
<text class="b" font-size="53" x="1674.5" y="215.5">TTCP<tspan font-weight="normal">,</tspan></text>
<text class="s" font-size="100" text-anchor="middle" transform="translate(1872.5,192.5) scale(0.657,0.70)" x="0" y="36.5">♥</text>
<text class="b" font-size="53" y="215.5"><tspan class="g" x="2000">β</tspan><tspan x="2030.2">-TCP</tspan></text>
</g>
<g id="arrows" fill="#000" stroke="#000" stroke-width="8" stroke-linejoin="round">
<path d="M524,1051 L524,1163.8 M516,1161.8 H532 L524,1195.8 Z"/>
<path d="M587.1,1101.2 L587.1,1214.1 M579.1,1212.1 H595.1 L587.1,1246.1 Z"/>
<path d="M673,1091.2 L673,1204.1 M665,1202.1 H681 L673,1236.1 Z"/>
<path d="M749.1,1134.1 L749.1,1247.3 M741.1,1245.3 H757.1 L749.1,1279.3 Z"/>
<path d="M785.3,957.1 L785.3,1172.9 M777.3,1170.9 H793.3 L785.3,1204.9 Z"/>
<path d="M818.1,1094.1 L818.1,1207 M810.1,1205 H826.1 L818.1,1239 Z"/>
<path d="M884.1,719.1 L884.1,831.9 M876.1,829.9 H892.1 L884.1,863.9 Z"/>
<path d="M904.1,1108.1 L904.1,1220.1 M896.1,1218.1 H912.1 L904.1,1252.1 Z"/>
<path d="M933.5,961.2 L933.5,1073 M925.5,1071 H941.5 L933.5,1105 Z"/>
<path d="M963.9,980.2 L963.9,1093 M955.9,1091 H971.9 L963.9,1125 Z"/>
<path d="M983.1,1104.1 L983.1,1216.8 M975.1,1214.8 H991.1 L983.1,1248.8 Z"/>
<path d="M1006,783 L1006,895.7 M998,893.7 H1014 L1006,927.7 Z"/>
<path d="M1059.2,396.9 L1059.2,510 M1051.2,508 H1067.2 L1059.2,542 Z"/>
<path d="M1085.2,746.2 L1085.2,995.8 M1077.2,993.8 H1093.2 L1085.2,1027.8 Z"/>
<path d="M1102.5,919.3 L1102.5,1032.1 M1094.5,1030.1 H1110.5 L1102.5,1064.1 Z"/>
<path d="M1122,1074 L1122,1187 M1114,1185 H1130 L1122,1219 Z"/>
<path d="M1175,1151.1 L1172,1231 M1164,1229 H1180 L1172,1263 Z"/>
<path d="M1208.1,1074 L1208.1,1187 M1200.1,1185 H1216.1 L1208.1,1219 Z"/>
<path d="M1224.1,823 L1224.1,935.3 M1216.1,933.3 H1232.1 L1224.1,967.3 Z"/>
<path d="M1257.1,1091.2 L1257.1,1203.7 M1249.1,1201.7 H1265.1 L1257.1,1235.7 Z"/>
<path d="M1277,1031.1 L1277,1143.8 M1269,1141.8 H1285 L1277,1175.8 Z"/>
<path d="M1323,1061.2 L1323,1173.2 M1315,1171.2 H1331 L1323,1205.2 Z"/>
<path d="M1359,1091.2 L1359,1203.7 M1351,1201.7 H1367 L1359,1235.7 Z"/>
<path d="M1396,752.3 L1396,865.1 M1388,863.1 H1404 L1396,897.1 Z"/>
<path d="M1425.9,950 L1425.9,1063 M1417.9,1061 H1433.9 L1425.9,1095 Z"/>
<path d="M1459,615 L1459,831.9 M1451,829.9 H1467 L1459,863.9 Z"/>
<path d="M1484.6,916.9 L1484.6,1029.4 M1476.6,1027.4 H1492.6 L1484.6,1061.4 Z"/>
<path d="M1504.7,789 L1504.7,1089.3 M1496.7,1087.3 H1512.7 L1504.7,1121.3 Z"/>
<path d="M1528,976.7 L1528,1089.3 M1520,1087.3 H1536 L1528,1121.3 Z"/>
<path d="M1551,876.9 L1551,988.8 M1543,986.8 H1559 L1551,1020.8 Z"/>
<path d="M1613.7,1071.2 L1613.7,1183.8 M1605.7,1181.8 H1621.7 L1613.7,1215.8 Z"/>
<path d="M1643.1,1148.4 L1643.1,1206.8 M1635.1,1204.8 H1651.1 L1643.1,1238.8 Z"/>
<path d="M1713,1033.8 L1713,1146.5 M1705,1144.5 H1721 L1713,1178.5 Z"/>
<path d="M1752,1068.1 L1752,1180.5 M1744,1178.5 H1760 L1752,1212.5 Z"/>
<path d="M1785.2,829.8 L1785.2,1149.6 M1777.2,1147.6 H1793.2 L1785.2,1181.6 Z"/>
<path d="M1815.1,1003.9 L1815.1,1116.6 M1807.1,1114.6 H1823.1 L1815.1,1148.6 Z"/>
<path d="M1835.1,853 L1838,1156.5 M1830,1154.5 H1846 L1838,1188.5 Z"/>
<path d="M1874.9,1092.1 L1874.9,1204.6 M1866.9,1202.6 H1882.9 L1874.9,1236.6 Z"/>
<path d="M1950,1121.2 L1950,1233.7 M1942,1231.7 H1958 L1950,1265.7 Z"/>
<path d="M2000,1091.2 L2000,1203.7 M1992,1201.7 H2008 L2000,1235.7 Z"/>
<path d="M2055.9,983 L2055.9,1193.2 M2047.9,1191.2 H2063.9 L2055.9,1225.2 Z"/>
<path d="M2091.9,1091.2 L2091.9,1203.7 M2083.9,1201.7 H2099.9 L2091.9,1235.7 Z"/>
<path d="M2125,892.9 L2127.8,1146.5 M2119.8,1144.5 H2135.8 L2127.8,1178.5 Z"/>
<path d="M2158.7,1078.1 L2158.7,1190.1 M2150.7,1188.1 H2166.7 L2158.7,1222.1 Z"/>
</g>
<g id="stars" font-family="IPAGothic,'Liberation Serif',serif" font-size="72" text-anchor="middle" fill="#000" stroke="#000" stroke-width="5" stroke-linejoin="round">
<text x="523.5" y="1045.8">*</text>
<text x="582.1" y="1091.4">*</text>
<text x="671.9" y="1081.1">*</text>
<text x="748.2" y="1126.3">*</text>
<text x="783.7" y="952.5">*</text>
<text x="816.6" y="1087.4">*</text>
<text x="883" y="717.5">*</text>
<text x="932.8" y="951.4">*</text>
<text x="962.7" y="968.8">*</text>
<text x="1027.8" y="188.2">*</text>
<text x="1058.6" y="389.7">*</text>
<text x="1084.6" y="738.4">*</text>
<text x="1100.6" y="912.4">*</text>
<text x="1131.4" y="1059.3">*</text>
<text x="1173.8" y="1139.9">*</text>
<text x="1196.6" y="1052.6">*</text>
<text x="1222.7" y="807.8">*</text>
<text x="1253.4" y="1078.5">*</text>
<text x="1276" y="1019.1">*</text>
<text x="1315.7" y="1062.1">*</text>
<text x="1355.5" y="1087.9">*</text>
<text x="1391.9" y="741.1">*</text>
<text x="1421.3" y="941.9">*</text>
<text x="1458" y="606.8">*</text>
<text x="1480.8" y="905.1">*</text>
<text x="1503.4" y="784.7">*</text>
<text x="1524.4" y="969.1">*</text>
<text x="1549.7" y="871.1">*</text>
<text x="1612.2" y="1062.6">*</text>
<text x="1641" y="1142.8">*</text>
<text x="1712.2" y="1026.2">*</text>
<text x="1748.1" y="1062.1">*</text>
<text x="1781.5" y="821.4">*</text>
<text x="1807.9" y="995.4">*</text>
<text x="1837.5" y="843.1">*</text>
<text x="1873.4" y="1076.3">*</text>
<text x="1945.5" y="1110.5">*</text>
<text x="1995.5" y="1075.9">*</text>
<text x="2058.9" y="965.5">*</text>
<text x="2090.7" y="1076.4">*</text>
<text x="2127.5" y="888">*</text>
<text x="2161" y="1069.7">*</text>
</g>
<g id="diamonds" class="s" font-size="100" text-anchor="middle">
<text transform="translate(907.2,1068.1) scale(0.68,0.686)" x="0" y="36">♦</text>
<text transform="translate(983,1068.1) scale(0.68,0.686)" x="0" y="36">♦</text>
</g>
<g id="hearts" class="s" font-size="100" text-anchor="middle">
<text transform="translate(1002.7,728.5) scale(0.708,0.753)" x="0" y="36.5">♥</text>
</g>
</svg>
</body>
</html>
